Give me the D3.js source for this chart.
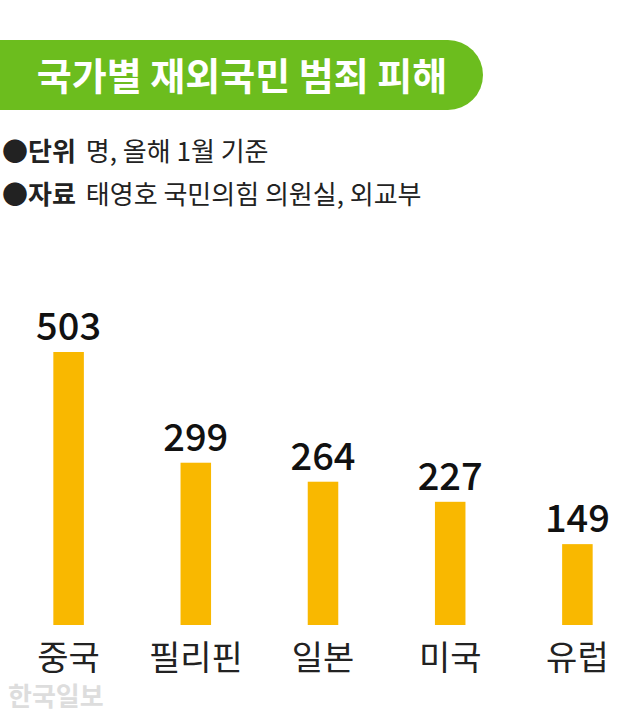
<!DOCTYPE html>
<html><head><meta charset="utf-8">
<script src="https://cdn.jsdelivr.net/npm/d3@7"></script>
<style>body{margin:0;background:#fff}svg{display:block;font-family:"Noto Sans CJK KR",sans-serif}</style>
</head><body>
<script>
const categories = ['중국', '필리핀', '일본', '미국', '유럽'];
const values = [503, 299, 264, 227, 149];

const W = 640, H = 724;
const svg = d3.select('body').append('svg').attr('width', W).attr('height', H);

// title pill
svg.append('rect').attr('x', -40).attr('y', 40).attr('width', 523).attr('height', 70)
    .attr('rx', 35).style('fill', '#6cbd1e');
svg.append('text').attr('x', 242).attr('y', 90).attr('text-anchor', 'middle')
    .style('font-size', '38px').style('font-weight', 'bold').style('fill', '#fff')
    .text('국가별 재외국민 범죄 피해');

const notes = [['●단위', '명, 올해 1월 기준'], ['●자료', '태영호 국민의힘 의원실, 외교부']];
notes.forEach((n, i) => {
    const t = svg.append('text').attr('x', 2).attr('y', 161 + i * 43)
        .style('font-size', '26px').style('fill', '#222');
    t.append('tspan').style('font-weight', 'bold').text(n[0]);
    t.append('tspan').attr('dx', 10).text(n[1]);
});

const x = d3.scaleBand().domain(categories).range([5, 641]).paddingInner(0.76).paddingOuter(0.38);
const y = d3.scaleLinear().domain([0, 503]).range([625, 352]);

svg.append('g').selectAll('rect').data(values).enter().append('rect')
    .attr('x', (d, i) => x(categories[i]))
    .attr('y', d => y(d))
    .attr('width', x.bandwidth())
    .attr('height', d => y(0) - y(d))
    .style('fill', '#f9b800');

svg.append('g').selectAll('text').data(values).enter().append('text')
    .attr('x', (d, i) => x(categories[i]) + x.bandwidth() / 2)
    .attr('y', d => y(d) - 12)
    .attr('text-anchor', 'middle')
    .style('font-size', '38px').style('font-weight', '500').style('fill', '#111')
    .text(d => d);

svg.append('g').selectAll('text').data(categories).enter().append('text')
    .attr('x', d => x(d) + x.bandwidth() / 2)
    .attr('y', 670)
    .attr('text-anchor', 'middle')
    .style('font-size', '34px').style('fill', '#222')
    .text(d => d);

svg.append('text').attr('x', 8).attr('y', 706)
    .style('font-size', '26px').style('font-weight', 'bold').style('fill', '#ddd')
    .text('한국일보');
</script>
</body></html>
